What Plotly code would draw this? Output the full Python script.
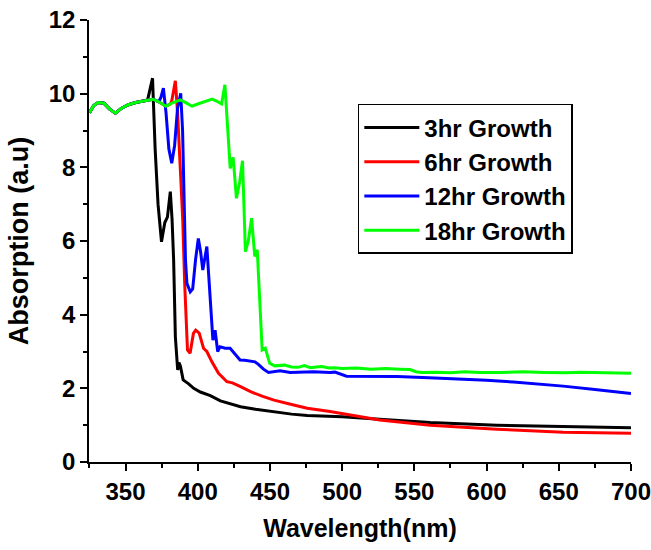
import plotly.graph_objects as go

# UV-Vis absorption spectra for different growth times
# shared baseline section (before each sample's absorption edge)
base_wl = [325, 328, 331, 335, 339, 343, 347, 352, 357, 362]
base_ab = [9.48, 9.68, 9.76, 9.74, 9.58, 9.47, 9.60, 9.70, 9.76, 9.80]

wl_3hr = base_wl + [365.3, 368.7, 370.5, 372.5, 374.9, 377.2, 379, 381, 382.2, 383.3,
                    384.5, 386.1, 387, 388, 389.9, 393.7, 397.2, 401.8, 408.7, 415.7,
                    422, 429.6, 440, 452.6, 465, 475.8, 491.6, 500, 526, 561, 607, 653, 700]
ab_3hr = base_ab + [9.83, 10.42, 8.5, 7.0, 5.98, 6.5, 6.65, 7.34, 6.6, 5.49,
                    3.4, 2.5, 2.7, 2.6, 2.23, 2.12, 2.0, 1.9, 1.8, 1.66,
                    1.58, 1.5, 1.43, 1.36, 1.3, 1.26, 1.25, 1.23, 1.16, 1.07, 1.0, 0.96, 0.93]

wl_6hr = base_wl + [366, 369, 373, 378, 381, 382, 384.5, 386, 388.3, 389.6, 391,
                    392.9, 394.7, 397, 398.6, 401, 404, 406.3, 409.8, 414.4, 420.2,
                    424, 430, 436.6, 445, 452.8, 465, 475.8, 491.6, 500, 526, 561,
                    607, 653, 700]
ab_6hr = base_ab + [9.83, 9.85, 9.78, 9.66, 9.72, 9.8, 10.35, 9.5, 7.66, 6.57, 4.8,
                    3.04, 2.95, 3.49, 3.58, 3.5, 3.09, 3.0, 2.72, 2.41, 2.18,
                    2.15, 2.04, 1.91, 1.78, 1.68, 1.56, 1.46, 1.37, 1.31, 1.14, 1.0,
                    0.89, 0.81, 0.78]

wl_12hr = base_wl + [366, 369, 373, 374.5, 376.2, 378, 380, 382, 384, 386, 388.2,
                     389.5, 391.5, 392.5, 394.8, 396.5, 398.5, 400.4, 402, 403.5,
                     406.3, 407.5, 409, 410.5, 412, 413.8, 415.4, 419, 422.4, 426,
                     429.3, 432.5, 436, 439.6, 442, 445.5, 449, 453, 457, 464, 472,
                     480, 491.6, 495, 503, 520, 538, 560, 584, 600, 618.6, 635, 653,
                     675, 700]
ab_12hr = base_ab + [9.83, 9.85, 9.78, 9.9, 10.15, 9.5, 8.5, 8.11, 8.6, 9.6, 10.01,
                     9.0, 5.49, 4.85, 4.62, 4.7, 5.5, 6.07, 5.7, 5.21,
                     5.85, 5.2, 4.22, 3.31, 3.58, 3.0, 3.13, 3.09, 3.09, 2.92,
                     2.77, 2.76, 2.75, 2.72, 2.65, 2.52, 2.43, 2.46, 2.48, 2.43, 2.44,
                     2.45, 2.43, 2.44, 2.33, 2.33, 2.32, 2.29, 2.25, 2.22, 2.17, 2.12, 2.06,
                     1.97, 1.86]

wl_18hr = base_wl + [366, 369, 373, 378, 383, 388, 392, 396, 400, 405, 410, 413,
                     416.5, 418.8, 420.5, 422.5, 424.5, 426.8, 429, 431, 433, 435,
                     437.3, 439.5, 441.2, 443, 444.6, 446.8, 449.8, 453.3, 457, 460,
                     465, 469.4, 473.9, 478, 482, 486, 491, 495, 500, 510, 520, 530,
                     540, 547, 551, 555, 565, 575, 585, 595, 610, 625, 640, 655, 665,
                     680, 700]
ab_18hr = base_ab + [9.83, 9.85, 9.78, 9.66, 9.76, 9.83, 9.75, 9.66, 9.72, 9.78, 9.85, 9.8,
                     9.72, 10.24, 9.2, 7.97, 8.27, 7.16, 7.6, 8.18, 5.71, 6.0,
                     6.62, 5.58, 5.76, 4.3, 3.04, 3.09, 2.68, 2.61, 2.63, 2.63,
                     2.58, 2.57, 2.62, 2.56, 2.58, 2.59, 2.55, 2.56, 2.54, 2.55, 2.52, 2.54,
                     2.52, 2.51, 2.45, 2.43, 2.44, 2.42, 2.45, 2.43, 2.43, 2.45, 2.43, 2.42, 2.44,
                     2.42, 2.41]

series = [
    ("3hr Growth", wl_3hr, ab_3hr, "#000000"),
    ("6hr Growth", wl_6hr, ab_6hr, "#ff0000"),
    ("12hr Growth", wl_12hr, ab_12hr, "#0000ff"),
    ("18hr Growth", wl_18hr, ab_18hr, "#00ff00"),
]

x_ticks = [350, 400, 450, 500, 550, 600, 650, 700]
y_ticks = [0, 2, 4, 6, 8, 10, 12]

FONT = "Liberation Sans, Arial, sans-serif"

fig = go.Figure()
for name, wl, ab, color in series:
    fig.add_trace(go.Scatter(x=wl, y=ab, mode="lines", name=name,
                             line=dict(color=color, width=3)))

axis_common = dict(
    showline=True, linecolor="black", linewidth=1.5, mirror=False,
    showgrid=False, zeroline=False, automargin=False, ticklabeloverflow="allow",
    ticks="outside", ticklen=7, tickwidth=1.5, tickcolor="black",
    tickfont=dict(family=FONT, size=24, color="black", weight="bold"),
)

fig.update_xaxes(
    range=[324.7, 700], tickvals=x_ticks,
    minor=dict(dtick=25, tick0=325, ticks="outside", ticklen=4, tickwidth=1.5,
               tickcolor="black", showgrid=False),
    title=dict(text="Wavelength(nm)", standoff=16,
               font=dict(family=FONT, size=25, color="black", weight="bold")),
    **axis_common,
)
fig.update_yaxes(
    range=[0, 12], tickvals=y_ticks,
    minor=dict(dtick=1, tick0=0, ticks="outside", ticklen=4, tickwidth=1.5,
               tickcolor="black", showgrid=False),
    title=dict(text="Absorption (a.u)", standoff=12,
               font=dict(family=FONT, size=27, color="black", weight="bold")),
    **axis_common,
)

fig.update_layout(
    width=651, height=550,
    margin=dict(l=89, r=20, t=20, b=88),
    paper_bgcolor="white", plot_bgcolor="white",
    legend=dict(
        x=0.496, y=0.81, xanchor="left", yanchor="top",
        bordercolor="black", borderwidth=1.5, bgcolor="white",
        font=dict(family=FONT, size=24, color="black", weight="bold"),
        tracegroupgap=0, itemwidth=55,
    ),
    showlegend=True,
)

fig.write_html("out.html")
